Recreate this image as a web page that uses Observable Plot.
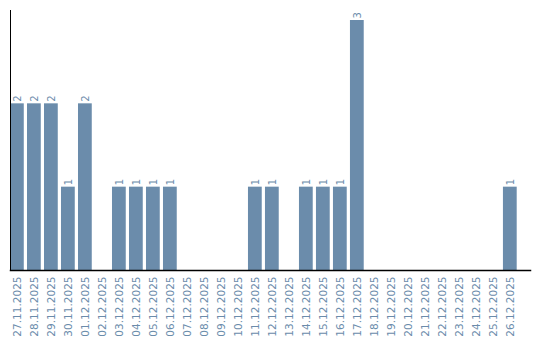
<!DOCTYPE html>
<html>
<head>
<meta charset="utf-8">
<script src="https://cdn.jsdelivr.net/npm/d3@7"></script>
<script src="https://cdn.jsdelivr.net/npm/@observablehq/plot@0.6"></script>
<style>
  html, body { margin: 0; padding: 0; background: #fff; }
</style>
</head>
<body>
<div id="chart"></div>
<script>
const dates = ["27.11.2025","28.11.2025","29.11.2025","30.11.2025","01.12.2025","02.12.2025","03.12.2025","04.12.2025","05.12.2025","06.12.2025","07.12.2025","08.12.2025","09.12.2025","10.12.2025","11.12.2025","12.12.2025","13.12.2025","14.12.2025","15.12.2025","16.12.2025","17.12.2025","18.12.2025","19.12.2025","20.12.2025","21.12.2025","22.12.2025","23.12.2025","24.12.2025","25.12.2025","26.12.2025"];
const counts = [2,2,2,1,2,0,1,1,1,1,0,0,0,0,1,1,0,1,1,1,3,0,0,0,0,0,0,0,0,1];

const data = dates.map((d, i) => ({date: d, count: counts[i]}));
const nonZero = data.filter(d => d.count > 0);
const col = "#6b8cab";

const chart = Plot.plot({
  width: 540,
  height: 340,
  marginLeft: 10,
  marginRight: 10,
  marginTop: 10,
  marginBottom: 70,
  style: {fontFamily: "DejaVu Sans", fontSize: "10px", background: "#fff"},
  x: {domain: dates, range: [10, 516.7], round: false, paddingInner: 0.19, paddingOuter: 0, label: null},
  y: {domain: [0, 3.12], label: null},
  marks: [
    Plot.barY(data, {x: "date", y: "count", fill: col}),
    Plot.text(nonZero, {x: "date", y: "count", text: d => String(d.count), rotate: -90, textAnchor: "start", dy: -2, fill: col, fontSize: 10}),
    Plot.frame({anchor: "left", stroke: "#000"}),
    Plot.frame({anchor: "bottom", stroke: "#000", strokeWidth: 1.5}),
    Plot.axisX({tickSize: 0, tickPadding: 6, tickRotate: -90, fill: col, fontSize: 10.5, label: null}),
    Plot.axisY({ticks: [], label: null})
  ]
});
document.getElementById("chart").appendChild(chart);
</script>
</body>
</html>
